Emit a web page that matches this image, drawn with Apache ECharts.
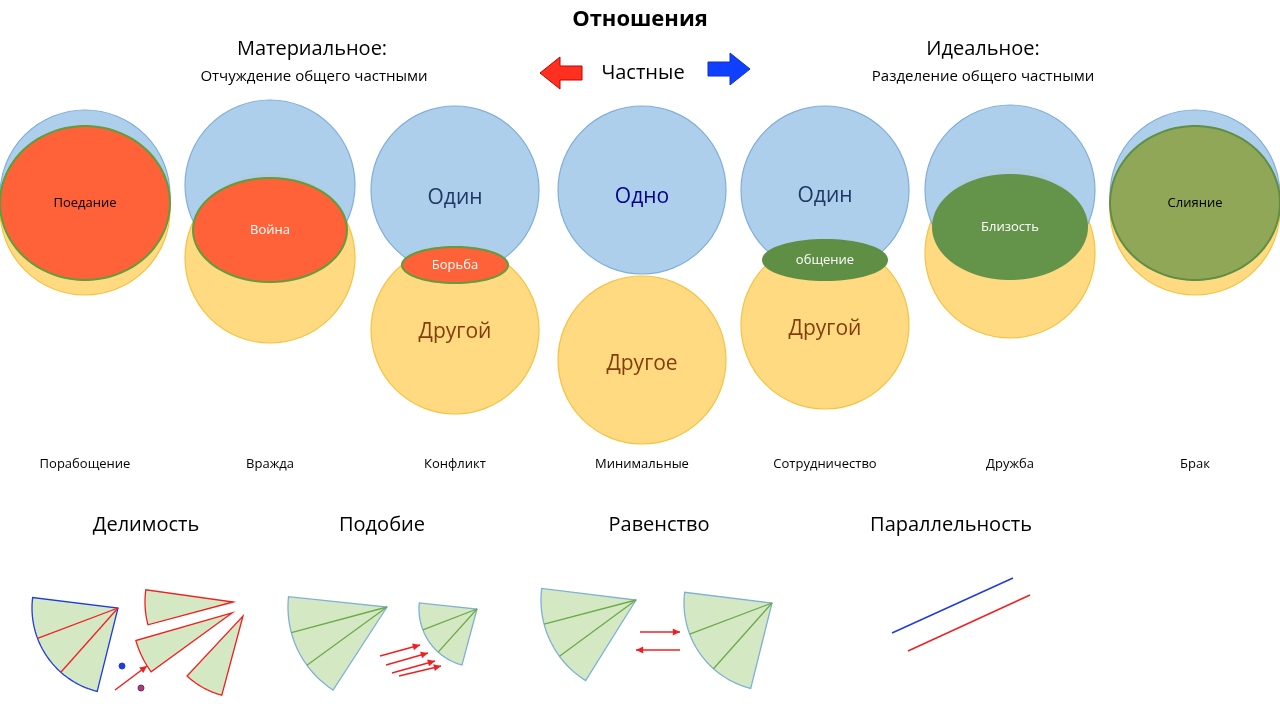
<!DOCTYPE html>
<html>
<head>
<meta charset="utf-8">
<script src="https://cdn.jsdelivr.net/npm/echarts@6/dist/echarts.min.js"></script>
<style>html,body{margin:0;background:#fff}#main{width:1280px;height:704px}</style>
</head>
<body>
<div id="main"></div>
<script>
// relation columns
const relations = ['Порабощение', 'Вражда', 'Конфликт', 'Минимальные', 'Сотрудничество', 'Дружба', 'Брак'];
const columnX = [85, 270, 455, 642, 825, 1010, 1195];
const labelY = 464;

// "one" (blue) and "other" (yellow) circles: [cx, cy, r]
const blueCircles = [[85, 195, 85], [270, 185, 85], [455, 190, 84], [642, 190, 84], [825, 190, 84], [1010, 190, 85], [1195, 195, 85]];
const yellowCircles = [[85, 210, 85], [270, 258, 85], [455, 330, 84], [642, 360, 84], [825, 325, 84], [1010, 253, 85], [1195, 210, 85]];

// overlap ellipses: [cx, cy, rx, ry, name]
const overlaps = [
    [85, 203, 85, 77, 'Поедание'],
    [270, 230, 77, 52, 'Война'],
    [455, 265, 53, 18, 'Борьба'],
    [825, 260, 62, 20, 'общение'],
    [1010, 227, 77, 52, 'Близость'],
    [1195, 203, 85, 77, 'Слияние']
];
const overlapFill = ['#FF6138', '#FF6138', '#FF6138', '#5E8F44', '#64934A', '#8FA757'];
const overlapStroke = ['#5E9E3C', '#5E9E3C', '#5E9E3C', null, null, '#5E8F44'];
const overlapText = ['#000', '#fff', '#fff', '#fff', '#fff', '#000'];

// circle words: [x, y, text]
const circleWords = [[455, 198, 'Один'], [642, 197, 'Одно'], [825, 196, 'Один'], [455, 332, 'Другой'], [642, 364, 'Другое'], [825, 329, 'Другой']];
const circleWordColor = ['#1F3864', '#00008B', '#1F3864', '#843C0C', '#843C0C', '#843C0C'];

// bottom headings
const headings = ['Делимость', 'Подобие', 'Равенство', 'Параллельность'];
const headingX = [146, 382, 659, 951];

// sectors: [apexX, apexY, r, angleFrom, angleTo, parts, style]
const sectors = [
    [118, 608, 86, 104, 187, 3, 0],
    [233, 602, 88, 165, 188, 1, 1],
    [232, 613, 100, 144, 164, 1, 1],
    [243, 616, 82, 105, 133, 1, 1],
    [387, 607, 99, 123, 186, 3, 2],
    [477, 609, 58, 105, 186, 3, 2],
    [636, 600, 95, 122, 187, 3, 2],
    [772, 603, 88, 104, 187, 3, 2]
];
const sectorEdge = ['#1E3CE0', '#F02020', '#7EB0D8'];
const sectorInner = ['#F02020', '#F02020', '#6AAB47'];

// segments: [x1, y1, x2, y2, color, arrow]
const segments = [
    [115, 690, 147, 666, '#F02020', 1],
    [380, 656, 420, 645, '#F02020', 1],
    [386, 665, 428, 653, '#F02020', 1],
    [392, 673, 435, 661, '#F02020', 1],
    [399, 676, 441, 666, '#F02020', 1],
    [640, 632, 680, 632, '#F02020', 1],
    [680, 650, 636, 650, '#F02020', 1],
    [892, 633, 1013, 578, '#1E3CE0', 0],
    [908, 651, 1030, 595, '#F02020', 0]
];
const dots = [[122, 666, '#1E3CE0'], [141, 688, '#E03030']];

function ellipsePts(api, cx, cy, rx, ry) {
    const pts = [];
    for (let i = 0; i < 90; i++) {
        const a = i / 90 * Math.PI * 2;
        pts.push(api.coord([cx + rx * Math.cos(a), cy + ry * Math.sin(a)]));
    }
    return pts;
}

function blockArrow(api, x, y, dir, color) {
    // x = tip, body extends opposite to dir
    const p = [[0, -7], [22, -7], [22, -16], [42, 0], [22, 16], [22, 7], [0, 7]];
    return {
        type: 'polygon',
        shape: { points: p.map(q => api.coord([dir > 0 ? x - 42 + q[0] : x + 42 - q[0], y + q[1]])) },
        style: { fill: color, stroke: color === '#FF3020' ? '#C00000' : '#1030C0', lineWidth: 1 }
    };
}

const chart = echarts.init(document.getElementById('main'));
chart.setOption({
    animation: false,
    grid: { left: 0, right: 0, top: 0, bottom: 0 },
    xAxis: { type: 'value', min: 0, max: 1280, show: false },
    yAxis: { type: 'value', min: 0, max: 704, inverse: true, show: false },
    title: [
        { text: 'Отношения', left: 'center', top: 4, textStyle: { fontFamily: 'Open Sans', fontSize: 22, fontWeight: 'bold', color: '#000' } },
        { text: 'Материальное:', left: 307, top: 34, textAlign: 'center', textStyle: { fontFamily: 'Open Sans', fontSize: 20, fontWeight: 'normal', color: '#000' } },
        { text: 'Отчуждение общего частными', left: 309, top: 64, textAlign: 'center', textStyle: { fontFamily: 'Open Sans', fontSize: 15, fontWeight: 'normal', color: '#000' } },
        { text: 'Идеальное:', left: 978, top: 34, textAlign: 'center', textStyle: { fontFamily: 'Open Sans', fontSize: 20, fontWeight: 'normal', color: '#000' } },
        { text: 'Разделение общего частными', left: 978, top: 64, textAlign: 'center', textStyle: { fontFamily: 'Open Sans', fontSize: 15, fontWeight: 'normal', color: '#000' } },
        { text: 'Частные', left: 638, top: 58, textAlign: 'center', textStyle: { fontFamily: 'Open Sans', fontSize: 20, fontWeight: 'normal', color: '#000' } }
    ],
    series: [
        {
            type: 'custom', data: [0],
            renderItem: (params, api) => ({
                type: 'group',
                children: [blockArrow(api, 540, 73, -1, '#FF3020'), blockArrow(api, 750, 69, 1, '#1040FF')]
            })
        },
        {
            type: 'custom', data: yellowCircles,
            renderItem: (params, api) => {
                const c = api.coord([api.value(0), api.value(1)]);
                return { type: 'circle', shape: { cx: c[0], cy: c[1], r: api.size([api.value(2), 0])[0] },
                    style: { fill: '#FFDA80', stroke: '#F5C242', lineWidth: 1.2 } };
            }
        },
        {
            type: 'custom', data: blueCircles,
            renderItem: (params, api) => {
                const c = api.coord([api.value(0), api.value(1)]);
                return { type: 'circle', shape: { cx: c[0], cy: c[1], r: api.size([api.value(2), 0])[0] },
                    style: { fill: 'rgba(170,204,234,0.95)', stroke: '#7FAEDB', lineWidth: 1.2 } };
            }
        },
        {
            type: 'custom', data: overlaps,
            renderItem: (params, api) => {
                const i = params.dataIndex, o = overlaps[i];
                const c = api.coord([o[0], o[1]]);
                return {
                    type: 'group',
                    children: [
                        { type: 'polygon', shape: { points: ellipsePts(api, o[0], o[1], o[2], o[3]) },
                          style: { fill: overlapFill[i], stroke: overlapStroke[i] || overlapFill[i], lineWidth: 2 } },
                        { type: 'text', x: c[0], y: c[1],
                          style: { text: o[4], fill: overlapText[i], fontSize: 13, fontFamily: 'Open Sans', align: 'center', verticalAlign: 'middle' } }
                    ]
                };
            }
        },
        {
            type: 'custom', data: circleWords,
            renderItem: (params, api) => {
                const w = circleWords[params.dataIndex];
                const c = api.coord([w[0], w[1]]);
                return { type: 'text', x: c[0], y: c[1],
                    style: { text: w[2], fill: circleWordColor[params.dataIndex], fontSize: 21, fontFamily: 'Open Sans', align: 'center', verticalAlign: 'middle' } };
            }
        },
        {
            type: 'custom', data: relations.map((r, i) => [columnX[i], labelY, r]),
            renderItem: (params, api) => {
                const c = api.coord([columnX[params.dataIndex], labelY]);
                return { type: 'text', x: c[0], y: c[1],
                    style: { text: relations[params.dataIndex], fill: '#000', fontSize: 13, fontFamily: 'Open Sans', align: 'center', verticalAlign: 'middle' } };
            }
        },
        {
            type: 'custom', data: headings.map((h, i) => [headingX[i], 525, h]),
            renderItem: (params, api) => {
                const c = api.coord([headingX[params.dataIndex], 525]);
                return { type: 'text', x: c[0], y: c[1],
                    style: { text: headings[params.dataIndex], fill: '#000', fontSize: 20, fontFamily: 'Open Sans', align: 'center', verticalAlign: 'middle' } };
            }
        },
        {
            type: 'custom', data: sectors,
            renderItem: (params, api) => {
                const s = sectors[params.dataIndex];
                const [ax, ay, r, a1, a2, parts, st] = s;
                const pt = a => { const t = a * Math.PI / 180; return api.coord([ax + r * Math.cos(t), ay + r * Math.sin(t)]); };
                const apex = api.coord([ax, ay]);
                const pts = [apex];
                for (let k = 0; k <= 40; k++) pts.push(pt(a1 + (a2 - a1) * k / 40));
                const children = [{ type: 'polygon', shape: { points: pts },
                    style: { fill: '#D5E8C4', stroke: sectorEdge[st], lineWidth: 1.3 } }];
                for (let k = 1; k < parts; k++) {
                    const e = pt(a1 + (a2 - a1) * k / parts);
                    children.push({ type: 'line', shape: { x1: apex[0], y1: apex[1], x2: e[0], y2: e[1] },
                        style: { stroke: sectorInner[st], lineWidth: 1.3 } });
                }
                return { type: 'group', children };
            }
        },
        {
            type: 'custom', data: segments,
            renderItem: (params, api) => {
                const s = segments[params.dataIndex];
                const p1 = api.coord([s[0], s[1]]), p2 = api.coord([s[2], s[3]]);
                const children = [{ type: 'line', shape: { x1: p1[0], y1: p1[1], x2: p2[0], y2: p2[1] }, style: { stroke: s[4], lineWidth: 1.5 } }];
                if (s[5]) {
                    const a = Math.atan2(p2[1] - p1[1], p2[0] - p1[0]);
                    const h = 8;
                    children.push({ type: 'polygon', shape: { points: [p2,
                        [p2[0] - h * Math.cos(a - 0.45), p2[1] - h * Math.sin(a - 0.45)],
                        [p2[0] - h * Math.cos(a + 0.45), p2[1] - h * Math.sin(a + 0.45)]] },
                        style: { fill: s[4] } });
                }
                return { type: 'group', children };
            }
        },
        {
            type: 'custom', data: dots,
            renderItem: (params, api) => {
                const d = dots[params.dataIndex];
                const c = api.coord([d[0], d[1]]);
                return { type: 'circle', shape: { cx: c[0], cy: c[1], r: 3 }, style: { fill: d[2], stroke: '#1E3CE0', lineWidth: 1 } };
            }
        }
    ]
});
</script>
</body>
</html>
